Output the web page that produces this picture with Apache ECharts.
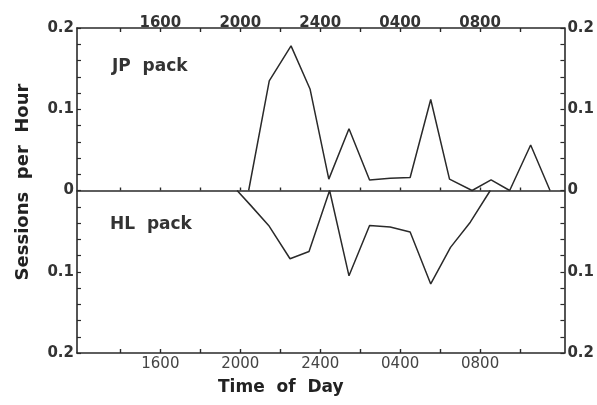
<!DOCTYPE html>
<html>
<head>
<meta charset="utf-8">
<script src="https://cdn.jsdelivr.net/npm/echarts@6.0.0/dist/echarts.min.js"></script>
<style>
  html, body { margin: 0; padding: 0; background: #fff; }
  #chart { width: 597px; height: 405px; }
</style>
</head>
<body>
<div id="chart"></div>
<script>
// hours counted from noon of day 1 (24 = midnight, 32 = 0800 next day)
const jpHours = [20.42, 21.45, 22.54, 23.49, 24.43, 25.44, 26.47, 27.5, 28.5, 29.53, 30.47, 31.6, 32.55, 33.48, 34.53, 35.5];
const jpValues = [0, 0.135, 0.178, 0.125, 0.014, 0.076, 0.013, 0.015, 0.016, 0.112, 0.014, 0, 0.013, 0, 0.056, 0];

// HL pack is drawn downward, values read as positive
const hlHours = [19.84, 20.51, 21.42, 22.49, 23.44, 24.47, 25.44, 26.47, 27.5, 28.5, 29.53, 30.52, 31.51, 32.51];
const hlValues = [0, 0.018, 0.043, 0.084, 0.075, 0, 0.105, 0.043, 0.045, 0.051, 0.115, 0.07, 0.039, 0];

const tickHours = [14, 16, 18, 20, 22, 24, 26, 28, 30, 32, 34];
const labelHours = [16, 20, 24, 28, 32];
const timeLabels = ['1600', '2000', '2400', '0400', '0800'];

const yTicks = [];
for (let i = -10; i <= 10; i++) yTicks.push(+(i * 0.02).toFixed(2));
const yLabels = [-0.2, -0.1, 0, 0.1, 0.2];

const ink = '#2a2a2a';
const font = 'DejaVu Sans';

const myChart = echarts.init(document.getElementById('chart'), null, { renderer: 'canvas' });

const xBase = (position, showLabels, labelColor, weight, margin) => ({
  type: 'value',
  position: position,
  min: 11.83,
  max: 36.22,
  axisLine: { show: true, onZero: false, lineStyle: { color: ink, width: 1.6 } },
  axisTick: { show: true, inside: true, length: 4, customValues: tickHours, lineStyle: { color: ink, width: 1.4 } },
  axisLabel: {
    show: showLabels,
    customValues: labelHours,
    margin: margin,
    fontFamily: font,
    fontSize: 15,
    fontWeight: weight,
    color: labelColor,
    formatter: (v) => timeLabels[labelHours.indexOf(Math.round(v))]
  },
  splitLine: { show: false }
});

const yBase = (position) => ({
  type: 'value',
  position: position,
  min: -0.2,
  max: 0.2,
  axisLine: { show: true, lineStyle: { color: ink, width: 1.6 } },
  axisTick: { show: true, inside: true, length: 4, customValues: yTicks, lineStyle: { color: ink, width: 1.2 } },
  axisLabel: {
    customValues: yLabels,
    margin: 3,
    fontFamily: font,
    fontSize: 15,
    fontWeight: 'bold',
    color: '#333',
    formatter: (v) => String(Math.abs(+v.toFixed(1)))
  },
  splitLine: { show: false }
});

// the 0 line across the middle, with its own small ticks
const zeroAxis = xBase('bottom', false, ink, 'normal', 4);
zeroAxis.axisLine.onZero = true;
zeroAxis.axisTick.length = 3;

const option = {
  animation: false,
  backgroundColor: '#fff',
  grid: { left: 77, top: 28, right: 29, bottom: 52 },
  xAxis: [
    xBase('bottom', true, '#444', 'normal', 4),
    xBase('top', true, '#333', 'bold', -3),
    zeroAxis
  ],
  yAxis: [yBase('left'), yBase('right')],
  graphic: [
    {
      type: 'text', left: 112, top: 58,
      style: { text: 'JP  pack', font: 'bold 17px "DejaVu Sans"', fill: '#333' }
    },
    {
      type: 'text', left: 110, top: 216,
      style: { text: 'HL  pack', font: 'bold 17px "DejaVu Sans"', fill: '#333' }
    },
    {
      type: 'text', left: 218, top: 379,
      style: { text: 'Time  of  Day', font: 'bold 17px "DejaVu Sans"', fill: '#222' }
    },
    {
      type: 'text', x: 23, y: 182, rotation: Math.PI / 2,
      style: {
        text: 'Sessions  per  Hour', font: 'bold 18px "DejaVu Sans"', fill: '#222',
        align: 'center', verticalAlign: 'middle'
      }
    }
  ],
  series: [
    {
      name: 'JP pack',
      type: 'line',
      xAxisIndex: 0,
      yAxisIndex: 0,
      symbol: 'none',
      lineStyle: { color: ink, width: 1.5 },
      data: jpHours.map((h, i) => [h, jpValues[i]])
    },
    {
      name: 'HL pack',
      type: 'line',
      xAxisIndex: 0,
      yAxisIndex: 0,
      symbol: 'none',
      lineStyle: { color: ink, width: 1.5 },
      data: hlHours.map((h, i) => [h, -hlValues[i]])
    }
  ]
};

myChart.setOption(option);
</script>
</body>
</html>
